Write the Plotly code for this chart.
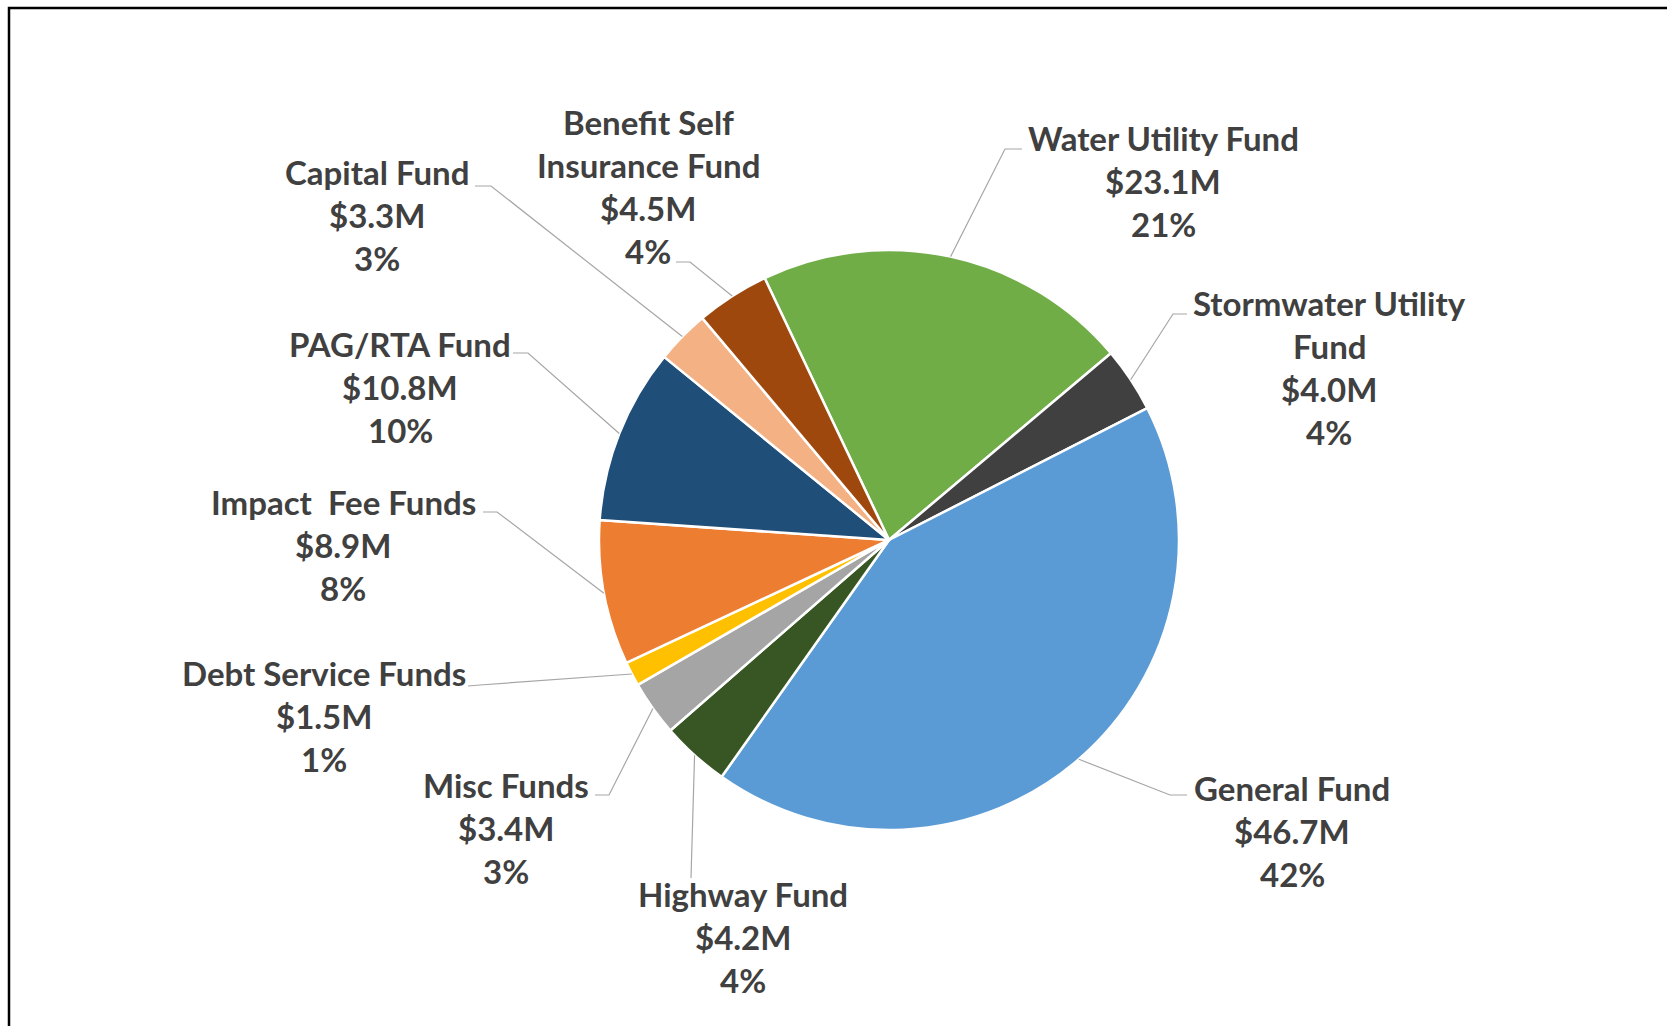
import math
import plotly.graph_objects as go

# ---------------- data ----------------
funds = ["Water Utility Fund", "Stormwater Utility Fund", "General Fund", "Highway Fund",
         "Misc Funds", "Debt Service Funds", "Impact Fee Funds", "PAG/RTA Fund",
         "Capital Fund", "Benefit Self Insurance Fund"]
label_names = [["Water Utility Fund"], ["Stormwater Utility", "Fund"], ["General Fund"],
               ["Highway Fund"], ["Misc Funds"], ["Debt Service Funds"],
               ["Impact\u00a0 Fee Funds"], ["PAG/RTA Fund"], ["Capital Fund"],
               ["Benefit Self", "Insurance Fund"]]
values_musd = [23.1, 4.0, 46.7, 4.2, 3.4, 1.5, 8.9, 10.8, 3.3, 4.5]

# ---------------- styles / layout ----------------
colors = ["#70AD47", "#404040", "#5B9BD5", "#375623", "#A5A5A5", "#FFC000",
          "#ED7D31", "#1F4E79", "#F4B183", "#9E480E"]
W, H = 1667, 1026          # window / figure size
CX, CY, R = 889, 540, 290
ROT = -25.4
LINE_H = 43
FONT = dict(family="Lato, 'Open Sans', sans-serif", size=33, color="#404040", weight="bold")

# label first-line centre (px) and leader elbow / end points (px)
label_pos = [(1163, 138), (1329, 303), (1292, 788), (743, 894), (506, 785),
             (324, 673), (343, 502), (400, 344), (377, 172), (648, 122)]
leader_pts = [[(1005, 149), (1022, 149)], [(1173, 314), (1187, 314)],
              [(1170, 795), (1187, 795)], [(691, 878)], [(609, 795), (595, 795)],
              [(480, 685), (468, 686)], [(497, 512), (483, 512)],
              [(528, 353), (513, 353)], [(491, 186), (475, 186)],
              [(690, 262), (676, 262)]]


def px(x, y):
    return x / W, 1 - y / H


dx0, dy0 = px(CX - R - 60, CY + R)
dx1, dy1 = px(CX + R + 60, CY - R)

fig = go.Figure(go.Pie(
    labels=funds, values=values_musd, sort=False, direction="clockwise",
    rotation=ROT, textinfo="none", hoverinfo="label+value+percent",
    marker=dict(colors=colors, line=dict(color="white", width=2.5)),
    domain=dict(x=[dx0, dx1], y=[dy0, dy1]),
    showlegend=False,
))

total = sum(values_musd)
annotations = []
shapes = []
cum = 0.0
for i, v in enumerate(values_musd):
    mid = math.radians(ROT + (cum + v / 2) / total * 360)
    cum += v
    sx, sy = CX + R * math.sin(mid), CY - R * math.cos(mid)
    pts = [(sx, sy)] + leader_pts[i]
    path = "M " + " L ".join("%f,%f" % px(x, y) for x, y in pts)
    shapes.append(dict(type="path", xref="paper", yref="paper", path=path,
                       line=dict(color="#A6A6A6", width=1.2)))
    lines = label_names[i] + ["$%.1fM" % v, "%d%%" % round(v / total * 100)]
    lx, ly = label_pos[i]
    for k, t in enumerate(lines):
        x, y = px(lx, ly + k * LINE_H)
        annotations.append(dict(x=x, y=y, xref="paper", yref="paper", text=t,
                                showarrow=False, xanchor="center", yanchor="middle",
                                font=FONT))

# chart frame
fx0, fy0 = px(9, 8)
shapes.append(dict(type="rect", xref="paper", yref="paper",
                   x0=fx0, y0=fy0, x1=1.05, y1=-0.05,
                   line=dict(color="black", width=2.5), fillcolor="rgba(0,0,0,0)"))

fig.update_layout(width=W, height=H, margin=dict(l=0, r=0, t=0, b=0),
                  paper_bgcolor="white", plot_bgcolor="white",
                  annotations=annotations, shapes=shapes)
fig.write_html("out.html", config={"displayModeBar": False},
               post_script="document.body.style.margin='0px';document.body.style.overflow='hidden';")
